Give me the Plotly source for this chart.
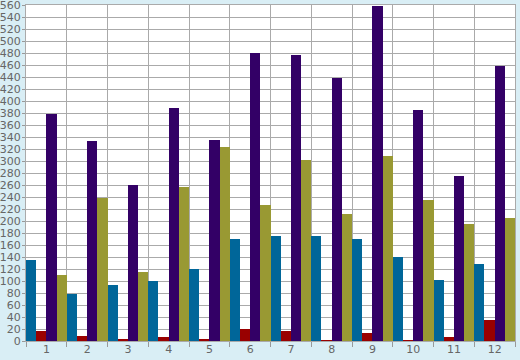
import plotly.graph_objects as go

categories = [str(i) for i in range(1, 13)]
blue = [135, 79, 94, 100, 120, 170, 175, 175, 170, 140, 101, 128]
red = [17, 8, 2, 7, 2, 20, 17, 1, 13, 1, 6, 35]
purple = [378, 334, 260, 388, 335, 480, 476, 439, 558, 385, 275, 458]
olive = [110, 238, 115, 256, 323, 226, 302, 212, 308, 235, 195, 205]

series = [("A", blue, "#006699"), ("B", red, "#990000"),
          ("C", purple, "#330066"), ("D", olive, "#999933")]

fig = go.Figure()
for name, vals, col in series:
    fig.add_trace(go.Bar(x=categories, y=vals, name=name, marker_color=col,
                         marker_line_width=0))

fig.update_layout(
    width=520, height=360,
    margin=dict(l=26, r=5, t=5, b=19, autoexpand=False),
    paper_bgcolor="#D9EEF5", plot_bgcolor="#FFFFFF",
    barmode="group", bargap=0, bargroupgap=0,
    showlegend=False,
    font=dict(family="DejaVu Sans", size=11, color="#666666"),
)
fig.update_xaxes(type="category", range=[-0.5, 11.5], tickson="boundaries",
                 ticks="outside", ticklen=5, tickcolor="#999999",
                 showgrid=True, gridcolor="#AAAAAA", gridwidth=1,
                 showline=True, linecolor="#AAAAAA", mirror=True,
                 automargin=False, ticklabelstandoff=-2,
                 ticklabeloverflow="allow", tickfont=dict(size=11))
fig.update_yaxes(range=[0, 560], dtick=20, ticks="outside", ticklen=3,
                 tickcolor="#999999", showgrid=True, gridcolor="#AAAAAA",
                 gridwidth=1, showline=True, linecolor="#AAAAAA", mirror=True,
                 zeroline=False, automargin=False, ticklabelstandoff=-1,
                 ticklabeloverflow="allow", tickfont=dict(size=11))

fig.write_html("out.html", config={"displayModeBar": False},
               post_script="document.body.style.margin='0';document.body.style.background='#D9EEF5';")
